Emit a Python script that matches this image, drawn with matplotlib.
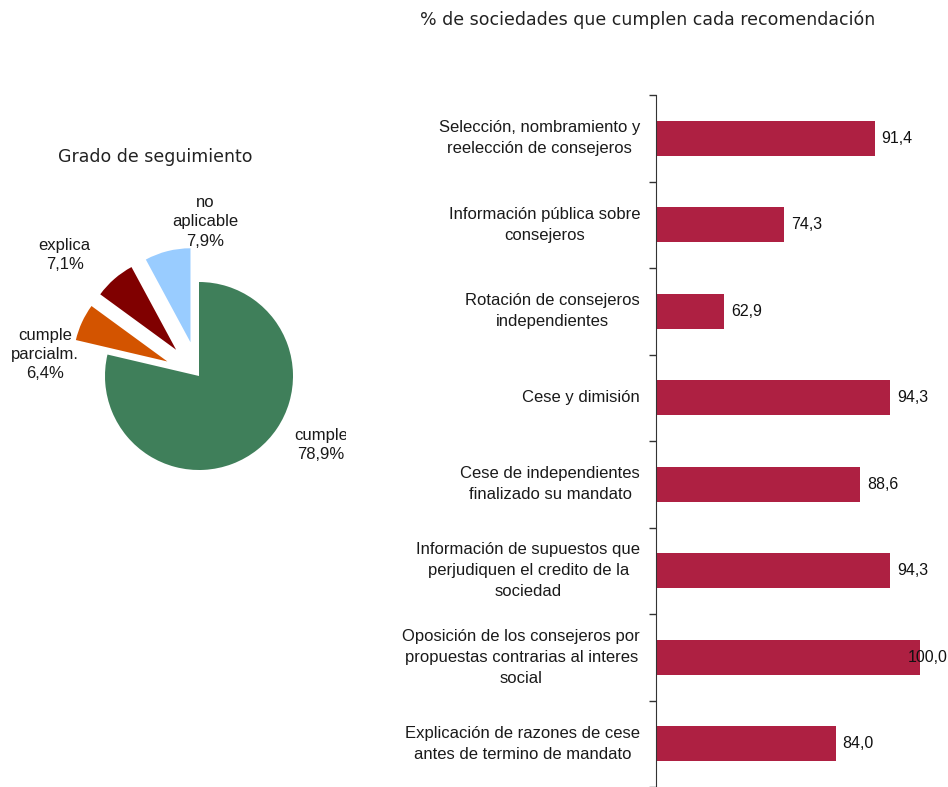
import matplotlib
matplotlib.use("Agg")
import matplotlib.pyplot as plt

# ---- data ----
pie_labels = ["cumple", "cumple\nparcialm.", "explica", "no\naplicable"]
pie_values = [78.9, 6.4, 7.1, 7.9]
pie_colors = ["#3F7F5A", "#D35400", "#800000", "#99CCFF"]
pie_explode = [0.0, 0.37, 0.37, 0.37]
# label anchors (pie radius units, relative to centre)
pie_label_pos = [(1.30, -0.73), (-1.64, 0.23), (-1.43, 1.29), (0.07, 1.64)]

categories = [
    "Selección, nombramiento y\nreelección de consejeros",
    "Información pública sobre\nconsejeros",
    "Rotación de consejeros\nindependientes",
    "Cese y dimisión",
    "Cese de independientes\nfinalizado su mandato",
    "Información de supuestos que\nperjudiquen el credito de la\nsociedad",
    "Oposición de los consejeros por\npropuestas contrarias al interes\nsocial",
    "Explicación de razones de cese\nantes de termino de mandato",
]
values = [91.4, 74.3, 62.9, 94.3, 88.6, 94.3, 100.0, 84.0]
bar_color = "#AE2042"
x_min, x_max = 50, 100


def fmt(v):
    return f"{v:.1f}".replace(".", ",")


plt.rcParams["font.family"] = ["Liberation Sans", "DejaVu Sans"]

fig = plt.figure(figsize=(9.48, 7.87), dpi=100)

# ---- pie ----
# centre at (199, 376) px, radius 94 px; right edge clips the "cumple" label
r_px = 94.0
cx, cy = 199.0, 376.0
left_u, right_u, half_v = 2.0, 1.56, 2.0
ax_pie = fig.add_axes([(cx - left_u * r_px) / 948,
                       (787 - cy - half_v * r_px) / 787,
                       (left_u + right_u) * r_px / 948,
                       2 * half_v * r_px / 787])
ax_pie.pie(pie_values, colors=pie_colors, explode=pie_explode,
           startangle=90, counterclock=False, radius=1.0,
           wedgeprops=dict(linewidth=0))
for lab, v, (lx, ly) in zip(pie_labels, pie_values, pie_label_pos):
    ax_pie.text(lx, ly, f"{lab}\n{fmt(v)}%", ha="center", va="center",
                multialignment="center", fontsize=12, color="#1a1a1a",
                linespacing=1.35, clip_on=True)
ax_pie.set_xlim(-left_u, right_u)
ax_pie.set_ylim(-half_v, half_v)
ax_pie.set_aspect("equal")
ax_pie.axis("off")
fig.text(155 / 948, 1 - 157 / 787, "Grado de seguimiento", ha="center",
         va="center", fontsize=12.5, family=["DejaVu Sans"], color="#222222")

# ---- bars ----
ax = fig.add_axes([656 / 948, 0.0, (920 - 656) / 948, 1 - 95 / 787])
ypos = list(range(len(categories)))
ax.barh(ypos, values, height=0.4, color=bar_color, left=0)
ax.set_xlim(x_min, x_max)
ax.set_ylim(len(categories) - 0.5, -0.5)
ax.set_yticks([i - 0.5 for i in range(len(categories) + 1)])
ax.set_yticklabels([])
ax.tick_params(axis="y", direction="out", length=5, width=1, color="#333333")
ax.set_xticks([])
for s in ["top", "right", "bottom"]:
    ax.spines[s].set_visible(False)
ax.spines["left"].set_color("#333333")

for y, cat, v in zip(ypos, categories, values):
    ax.text(-0.06, y, cat, transform=ax.get_yaxis_transform(), ha="right",
            va="center", multialignment="center", fontsize=12,
            color="#1a1a1a", linespacing=1.5)
    if v >= x_max:
        ax.annotate(fmt(v), xy=(v, y), xytext=(-9, 0),
                    textcoords="offset points", ha="left", va="center",
                    fontsize=11.5, color="#111111", annotation_clip=False)
    else:
        ax.annotate(fmt(v), xy=(v, y), xytext=(5, 0),
                    textcoords="offset points", ha="left", va="center",
                    fontsize=11.5, color="#111111")

fig.text(648 / 948, 1 - 20 / 787,
         "% de sociedades que cumplen cada recomendación", ha="center",
         va="center", fontsize=12.5, family=["DejaVu Sans"], color="#222222")

fig.savefig("out.png", dpi=100)
